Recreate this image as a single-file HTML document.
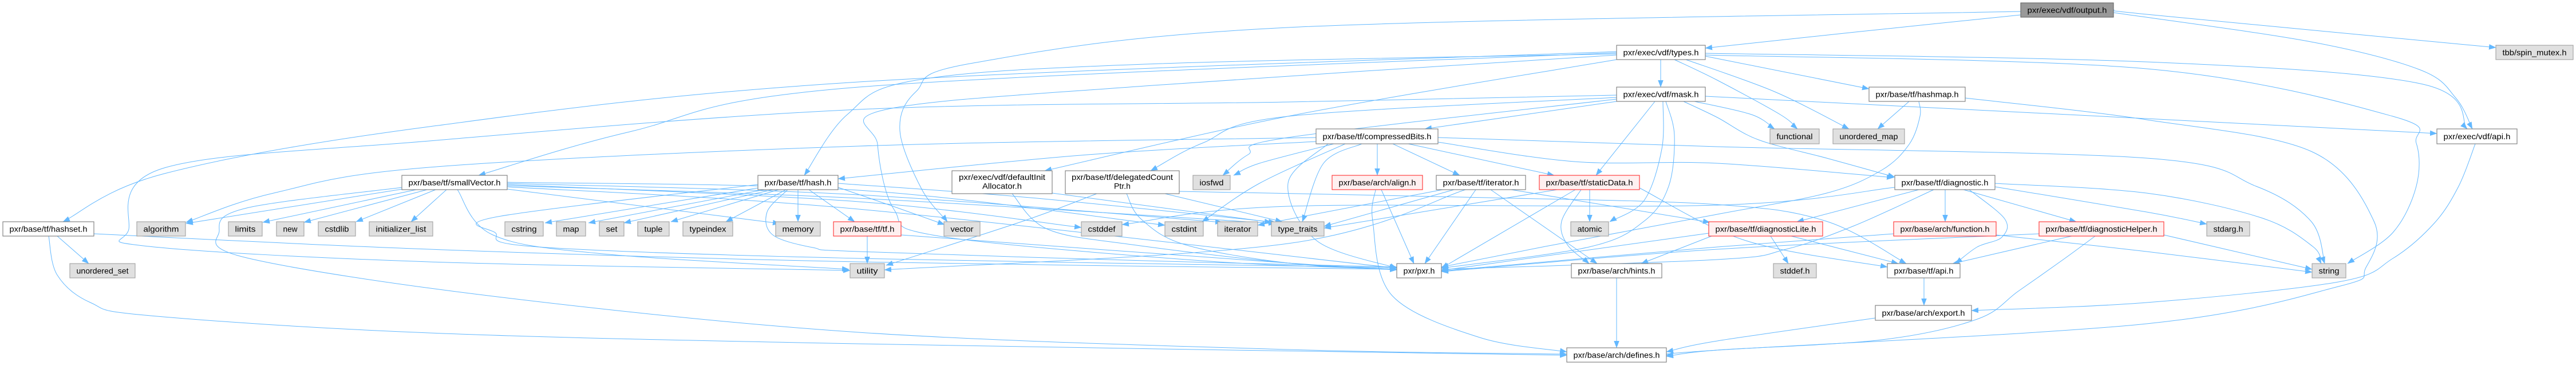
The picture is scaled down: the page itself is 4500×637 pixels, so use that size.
<!DOCTYPE html>
<html><head><meta charset="utf-8"><style>
html,body{margin:0;padding:0;background:#fff}
svg{display:block}
text{font-family:"Liberation Sans",Arial,sans-serif;font-size:14px;fill:#000;text-anchor:middle}
.w{fill:#fff;stroke:#7a7a7a;stroke-width:1.1}
.g{fill:#e0e0e0;stroke:#a0a0a0;stroke-width:1.1}
.r{fill:#fff0f0;stroke:#ff3030;stroke-width:1.1}
.d{fill:#999;stroke:#666;stroke-width:1.1}
#edges path{fill:none;stroke:#63b8ff;stroke-width:1}
</style></head><body>
<svg id="s" width="4500" height="637" viewBox="0 0 4500 637" xmlns="http://www.w3.org/2000/svg">
<defs><marker id="a" markerWidth="13" markerHeight="10" refX="12" refY="4.75" orient="auto" markerUnits="userSpaceOnUse"><path d="M0,0 L12.5,4.75 L0,9.5 z" fill="#63b8ff"/></marker></defs>
<rect x="0" y="0" width="4500" height="637" fill="#fff"/>
<g id="edges"></g>
<g id="nodes">
<rect class="d" x="3530" y="5" width="162" height="25"/><text x="3611" y="22.5" textLength="139" lengthAdjust="spacingAndGlyphs">pxr/exec/vdf/output.h</text>
<rect class="w" x="2824" y="79" width="155" height="25"/><text x="2901.5" y="96.5" textLength="132" lengthAdjust="spacingAndGlyphs">pxr/exec/vdf/types.h</text>
<rect class="g" x="4360" y="79" width="135" height="25"/><text x="4427.5" y="96.5" textLength="112" lengthAdjust="spacingAndGlyphs">tbb/spin_mutex.h</text>
<rect class="w" x="2824" y="152" width="155" height="25"/><text x="2901.5" y="169.5" textLength="132" lengthAdjust="spacingAndGlyphs">pxr/exec/vdf/mask.h</text>
<rect class="w" x="3265" y="152" width="168" height="25"/><text x="3349" y="169.5" textLength="145" lengthAdjust="spacingAndGlyphs">pxr/base/tf/hashmap.h</text>
<rect class="w" x="2299" y="225" width="213" height="26"/><text x="2405.5" y="243" textLength="190" lengthAdjust="spacingAndGlyphs">pxr/base/tf/compressedBits.h</text>
<rect class="g" x="3092" y="225" width="86" height="26"/><text x="3135" y="243" textLength="63" lengthAdjust="spacingAndGlyphs">functional</text>
<rect class="g" x="3202" y="225" width="125" height="26"/><text x="3264.5" y="243" textLength="102" lengthAdjust="spacingAndGlyphs">unordered_map</text>
<rect class="w" x="4257" y="225" width="140" height="26"/><text x="4327" y="243" textLength="117" lengthAdjust="spacingAndGlyphs">pxr/exec/vdf/api.h</text>
<rect class="w" x="702" y="306" width="184" height="25"/><text x="794" y="323.5" textLength="161" lengthAdjust="spacingAndGlyphs">pxr/base/tf/smallVector.h</text>
<rect class="w" x="1324" y="306" width="140" height="25"/><text x="1394" y="323.5" textLength="117" lengthAdjust="spacingAndGlyphs">pxr/base/tf/hash.h</text>
<rect class="w" x="1663" y="298" width="175" height="40"/><text x="1750.5" y="314" textLength="151" lengthAdjust="spacingAndGlyphs">pxr/exec/vdf/defaultInit</text><text x="1750.5" y="329.5" textLength="69" lengthAdjust="spacingAndGlyphs">Allocator.h</text>
<rect class="w" x="1861" y="298" width="199" height="40"/><text x="1960.5" y="314" textLength="177" lengthAdjust="spacingAndGlyphs">pxr/base/tf/delegatedCount</text><text x="1960.5" y="329.5" textLength="29" lengthAdjust="spacingAndGlyphs">Ptr.h</text>
<rect class="g" x="2084" y="306" width="65" height="25"/><text x="2116.5" y="323.5" textLength="42" lengthAdjust="spacingAndGlyphs">iosfwd</text>
<rect class="r" x="2327" y="306" width="158" height="25"/><text x="2406" y="323.5" textLength="135" lengthAdjust="spacingAndGlyphs">pxr/base/arch/align.h</text>
<rect class="w" x="2509" y="306" width="156" height="25"/><text x="2587" y="323.5" textLength="133" lengthAdjust="spacingAndGlyphs">pxr/base/tf/iterator.h</text>
<rect class="r" x="2689" y="306" width="175" height="25"/><text x="2776.5" y="323.5" textLength="152" lengthAdjust="spacingAndGlyphs">pxr/base/tf/staticData.h</text>
<rect class="w" x="3310" y="306" width="175" height="25"/><text x="3397.5" y="323.5" textLength="152" lengthAdjust="spacingAndGlyphs">pxr/base/tf/diagnostic.h</text>
<rect class="w" x="5" y="387" width="159" height="25"/><text x="84.5" y="404.5" textLength="136" lengthAdjust="spacingAndGlyphs">pxr/base/tf/hashset.h</text>
<rect class="g" x="239" y="387" width="85" height="25"/><text x="281.5" y="404.5" textLength="62" lengthAdjust="spacingAndGlyphs">algorithm</text>
<rect class="g" x="399" y="387" width="59" height="25"/><text x="428.5" y="404.5" textLength="36" lengthAdjust="spacingAndGlyphs">limits</text>
<rect class="g" x="483" y="387" width="48" height="25"/><text x="507" y="404.5" textLength="25" lengthAdjust="spacingAndGlyphs">new</text>
<rect class="g" x="556" y="387" width="65" height="25"/><text x="588.5" y="404.5" textLength="42" lengthAdjust="spacingAndGlyphs">cstdlib</text>
<rect class="g" x="645" y="387" width="111" height="25"/><text x="700.5" y="404.5" textLength="88" lengthAdjust="spacingAndGlyphs">initializer_list</text>
<rect class="g" x="882" y="387" width="67" height="25"/><text x="915.5" y="404.5" textLength="44" lengthAdjust="spacingAndGlyphs">cstring</text>
<rect class="g" x="972" y="387" width="51" height="25"/><text x="997.5" y="404.5" textLength="28" lengthAdjust="spacingAndGlyphs">map</text>
<rect class="g" x="1047" y="387" width="43" height="25"/><text x="1068.5" y="404.5" textLength="20" lengthAdjust="spacingAndGlyphs">set</text>
<rect class="g" x="1114" y="387" width="55" height="25"/><text x="1141.5" y="404.5" textLength="32" lengthAdjust="spacingAndGlyphs">tuple</text>
<rect class="g" x="1193" y="387" width="87" height="25"/><text x="1236.5" y="404.5" textLength="64" lengthAdjust="spacingAndGlyphs">typeindex</text>
<rect class="g" x="1355" y="387" width="78" height="25"/><text x="1394" y="404.5" textLength="55" lengthAdjust="spacingAndGlyphs">memory</text>
<rect class="r" x="1456" y="387" width="118" height="25"/><text x="1515" y="404.5" textLength="95" lengthAdjust="spacingAndGlyphs">pxr/base/tf/tf.h</text>
<rect class="g" x="1649" y="387" width="63" height="25"/><text x="1680.5" y="404.5" textLength="40" lengthAdjust="spacingAndGlyphs">vector</text>
<rect class="g" x="1889" y="387" width="71" height="25"/><text x="1924.5" y="404.5" textLength="48" lengthAdjust="spacingAndGlyphs">cstddef</text>
<rect class="g" x="2035" y="387" width="67" height="25"/><text x="2068.5" y="404.5" textLength="44" lengthAdjust="spacingAndGlyphs">cstdint</text>
<rect class="g" x="2127" y="387" width="70" height="25"/><text x="2162" y="404.5" textLength="47" lengthAdjust="spacingAndGlyphs">iterator</text>
<rect class="g" x="2221" y="387" width="92" height="25"/><text x="2267" y="404.5" textLength="69" lengthAdjust="spacingAndGlyphs">type_traits</text>
<rect class="g" x="2744" y="387" width="66" height="25"/><text x="2777" y="404.5" textLength="43" lengthAdjust="spacingAndGlyphs">atomic</text>
<rect class="r" x="2985" y="387" width="199" height="25"/><text x="3084.5" y="404.5" textLength="176" lengthAdjust="spacingAndGlyphs">pxr/base/tf/diagnosticLite.h</text>
<rect class="r" x="3308" y="387" width="179" height="25"/><text x="3397.5" y="404.5" textLength="156" lengthAdjust="spacingAndGlyphs">pxr/base/arch/function.h</text>
<rect class="r" x="3562" y="387" width="218" height="25"/><text x="3671" y="404.5" textLength="195" lengthAdjust="spacingAndGlyphs">pxr/base/tf/diagnosticHelper.h</text>
<rect class="g" x="3855" y="387" width="75" height="25"/><text x="3892.5" y="404.5" textLength="52" lengthAdjust="spacingAndGlyphs">stdarg.h</text>
<rect class="g" x="122" y="460" width="114" height="25"/><text x="179" y="477.5" textLength="91" lengthAdjust="spacingAndGlyphs">unordered_set</text>
<rect class="g" x="1485" y="460" width="60" height="25"/><text x="1515" y="477.5" textLength="37" lengthAdjust="spacingAndGlyphs">utility</text>
<rect class="w" x="2440" y="460" width="78" height="25"/><text x="2479" y="477.5" textLength="55" lengthAdjust="spacingAndGlyphs">pxr/pxr.h</text>
<rect class="w" x="2745" y="460" width="158" height="25"/><text x="2824" y="477.5" textLength="135" lengthAdjust="spacingAndGlyphs">pxr/base/arch/hints.h</text>
<rect class="g" x="3098" y="460" width="75" height="25"/><text x="3135.5" y="477.5" textLength="52" lengthAdjust="spacingAndGlyphs">stddef.h</text>
<rect class="w" x="3297" y="460" width="127" height="25"/><text x="3360.5" y="477.5" textLength="104" lengthAdjust="spacingAndGlyphs">pxr/base/tf/api.h</text>
<rect class="g" x="4039" y="460" width="59" height="25"/><text x="4068.5" y="477.5" textLength="36" lengthAdjust="spacingAndGlyphs">string</text>
<rect class="w" x="3276" y="533" width="168" height="26"/><text x="3360" y="551" textLength="145" lengthAdjust="spacingAndGlyphs">pxr/base/arch/export.h</text>
<rect class="w" x="2737" y="607" width="174" height="25"/><text x="2824" y="624.5" textLength="151" lengthAdjust="spacingAndGlyphs">pxr/base/arch/defines.h</text>
</g>
</svg>
<script>
var E=[
[3530,26,3250,55,2979,84],
[3692,17,3750,25,4360,83],
[3692,22,4037,73,4228,122,4290,171,4319,225],
[3530,20,2250,48,1700,110,1600,160,1572,228,1610,330,1655,387],
[2824,90,1500,143,750,221,287,303,110,387],
[2824,92,1500,152,1100,230,836,306],
[2824,94,2000,112,1600,140,1480,200,1405,306],
[2824,96,2000,150,1548,191,1533,252,1562,366,1640,412,2100,455,2440,470],
[2824,104,2265,200,1825,298],
[2925,104,3000,140,3110,200,3140,225],
[2945,104,3100,160,3230,225],
[2979,98,3265,155],
[2979,93,3750,108,4228,146,4310,225],
[2979,96,3750,120,4180,203,4221,250,4221,325,4180,406,4101,460],
[2901,104,2901,152],
[2824,166,2250,178,1500,191,750,246,287,293,225,400,260,430,750,457,1485,472],
[2824,170,2250,203,2100,250,2010,298],
[2824,173,2250,240,2180,270,2136,306],
[2824,177,2489,225],
[2891,177,2788,306],
[2905,177,2903,260,2872,350,2812,387],
[2910,177,2925,236,2915,325,2872,386,2776,431,2518,468],
[2979,168,3750,207,4257,233],
[2941,177,3000,205,3072,244,3191,276,3310,309],
[2960,177,3060,200,3100,225],
[3433,171,3750,209,4037,264,4147,386,4133,467,4085,500,3750,565,3000,611,2911,620],
[3335,177,3280,225],
[3352,177,3354,203,3335,252,3287,297,3191,337,3000,374,2700,430,2518,466],
[2299,247,1900,270,1464,312],
[2299,240,1500,255,750,292,478,337,325,388],
[2406,251,2406,306],
[2433,251,2550,306],
[2460,251,2715,306],
[2330,251,2200,285,2155,306],
[2379,251,2312,285,2275,387],
[2350,251,2200,320,2100,387],
[2512,248,2750,282,3000,285,3308,310],
[2512,240,3000,256,3750,276,3941,325,4037,386,4061,460],
[2320,251,2250,320,2300,420,2440,468],
[703,330,325,390],
[727,331,459,388],
[746,331,531,388],
[761,331,622,387],
[780,331,718,387],
[703,327,431,363,383,403,431,450,861,517,1500,580,2250,610,2737,618],
[799,331,861,410,1053,443,1483,470],
[886,330,1362,390],
[886,322,1500,352,1889,397],
[886,318,1500,332,2035,393],
[886,320,1500,340,2135,388],
[886,324,1500,346,2228,390],
[886,326,1500,365,2440,468],
[1324,328,952,389],
[1335,331,1028,389],
[1350,331,1090,389],
[1360,331,1172,387],
[1373,331,1268,387],
[1394,331,1394,387],
[1413,331,1493,387],
[1464,327,1560,360,1650,392],
[1324,322,870,378,865,406,941,431,1500,451,2440,467],
[1376,331,1340,370,1350,410,1420,432,1500,439,2000,455,2440,466],
[1464,320,1800,345,2228,388],
[1515,412,1515,460],
[1574,410,2250,459,2440,470],
[100,412,155,460],
[85,412,100,480,158,528,263,551,750,581,1500,600,2737,620],
[164,408,750,435,1500,457,2440,470],
[1768,338,1830,400,1978,427,2250,459,2440,470],
[1838,337,2221,388],
[1916,338,1787,386,1548,463],
[1968,338,1993,382,2070,427,2250,459,2440,471],
[2035,338,2240,387],
[2060,334,2600,345,3000,357,3190,386,3330,460],
[2413,331,2470,460],
[2403,331,2398,386,2432,516,2585,589,2737,614],
[2578,331,2489,460],
[2604,331,2790,460],
[2540,331,2313,395],
[2520,331,2197,393],
[2560,331,2250,425,1545,471],
[2640,331,2987,388],
[2777,331,2777,387],
[2752,331,2518,468],
[2762,331,2728,386,2738,427,2776,460],
[2720,331,2313,398],
[2864,328,3050,420,3297,466],
[3352,331,3139,387],
[3398,331,3398,387],
[3430,331,3627,387],
[3440,331,3502,382,3497,414,3454,431,3416,460],
[3378,331,3239,394,3120,435,3000,453,2518,470],
[3310,327,3000,358,2250,360,1960,392],
[3485,320,3750,337,3950,380,4040,430,4055,460],
[3485,326,3750,370,3855,391],
[3093,412,3124,460],
[3129,412,3316,460],
[2990,412,2867,460],
[2985,407,2518,472],
[3308,408,3000,431,2518,473],
[3487,410,3750,439,4039,475],
[3619,412,3411,460],
[3660,412,3607,451,3526,508,3454,557,3287,593,3000,611,2911,622],
[3562,408,3000,435,2518,474],
[3780,410,4039,470],
[3361,485,3361,533],
[3276,555,3000,595,2911,614],
[4324,251,4295,325,4252,390,4180,451,4085,492,3750,528,3444,542],
[2824,485,2824,607]
];
var g=document.getElementById('edges'),ns='http://www.w3.org/2000/svg';
E.forEach(function(a){
var p=[];for(var i=0;i<a.length;i+=2)p.push([a[i],a[i+1]]);
var d='M'+p[0][0]+','+p[0][1];
if(p.length==2){d+=' L'+p[1][0]+','+p[1][1];}
else{for(var i=0;i<p.length-1;i++){
var p0=p[i-1]||p[i],p1=p[i],p2=p[i+1],p3=p[i+2]||p[i+1];
var c1=[p1[0]+(p2[0]-p0[0])/6,p1[1]+(p2[1]-p0[1])/6];
var c2=[p2[0]-(p3[0]-p1[0])/6,p2[1]-(p3[1]-p1[1])/6];
d+=' C'+c1[0].toFixed(1)+','+c1[1].toFixed(1)+' '+c2[0].toFixed(1)+','+c2[1].toFixed(1)+' '+p2[0]+','+p2[1];}}
var e=document.createElementNS(ns,'path');e.setAttribute('d',d);e.setAttribute('marker-end','url(#a)');g.appendChild(e);
});
</script>
</body></html>
